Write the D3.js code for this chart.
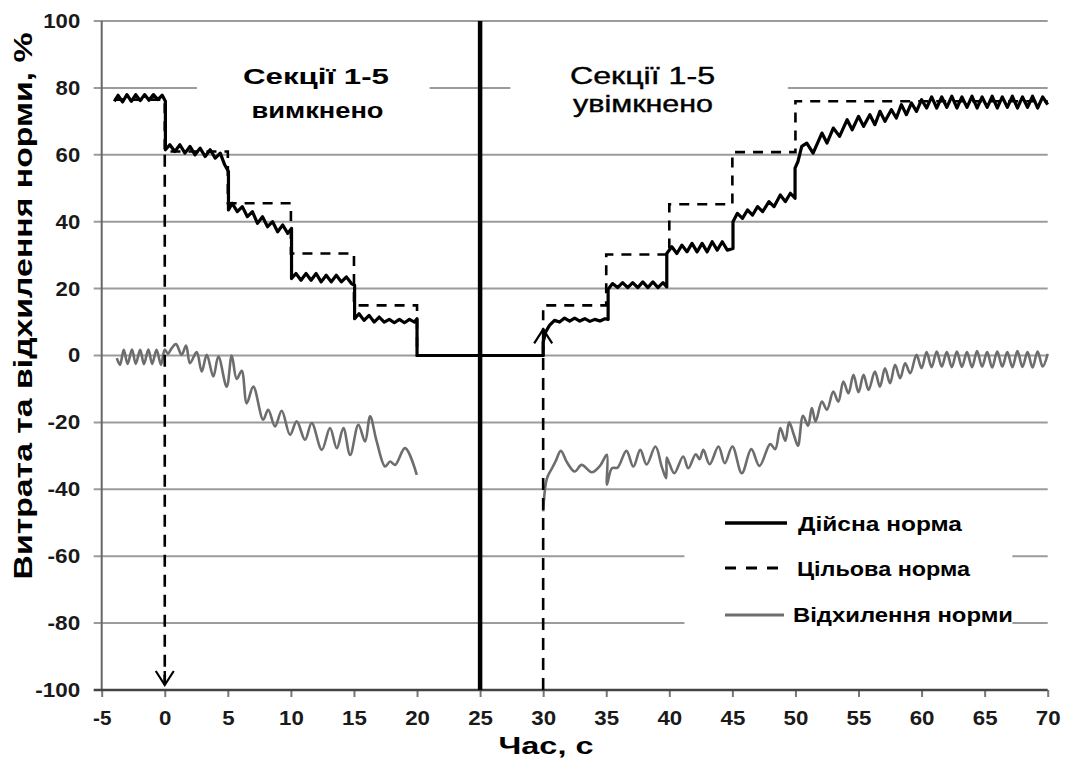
<!DOCTYPE html>
<html><head><meta charset="utf-8">
<script src="https://cdn.jsdelivr.net/npm/d3@7"></script>
<style>
html,body{margin:0;padding:0;background:#fff;}
svg{display:block;font-family:"Liberation Sans",Arial,sans-serif;}
</style></head>
<body>
<svg id="chart" width="1066" height="758"></svg>
<script>
// ---------------- DATA ----------------
const xTicks = [-5,0,5,10,15,20,25,30,35,40,45,50,55,60,65,70];
const yTicks = [-100,-80,-60,-40,-20,0,20,40,60,80,100];

// target norm (step after)
const targetTimes  = [-4, 0, 5, 10, 15, 20, 30, 35, 40, 45, 50, 70];
const targetValues = [76.5, 61, 45.5, 30.5, 15, 0, 15, 30.2, 45.2, 60.8, 76, 76];

// actual norm [time, value]
const actualNorm = [
 [-4.0,76],[-3.7,77.8],[-3.35,75.8],[-3.0,78],[-2.65,76],[-2.3,78],[-1.95,76.2],[-1.6,78],[-1.25,76.3],[-0.9,78],[-0.55,76.5],[-0.2,77.8],[0.05,76],
 [0.05,61.5],[0.4,63],[0.8,61],[1.2,63],[1.6,60.5],[2.0,62.5],[2.4,60],[2.8,62],[3.2,59.5],[3.6,61.5],[4.0,59],[4.4,60.5],[4.75,57],[5.05,55],
 [5.05,43.5],[5.35,45.5],[5.75,43],[6.15,44.5],[6.55,41.5],[6.95,43],[7.35,39.5],[7.75,41.5],[8.15,38.5],[8.55,40],[8.95,37],[9.35,39],[9.75,36.5],[10.05,38],
 [10.05,23],[10.4,24.5],[10.8,22.5],[11.2,24.5],[11.6,22.5],[12.0,24.5],[12.4,22],[12.8,24],[13.2,22],[13.6,24],[14.0,22],[14.4,23.5],[14.8,21.5],[15.05,21],
 [15.05,11],[15.4,12.5],[15.8,10.5],[16.2,12],[16.6,10],[17.0,11.5],[17.4,10],[17.8,10.8],[18.2,9.8],[18.6,10.8],[19.0,9.8],[19.4,10.8],[19.8,10],[20.0,11],
 [20.0,0],[30.0,0],
 [30.0,4],[30.2,7],[30.5,9],[30.9,10.5],[31.3,10],[31.7,11.2],[32.1,10.3],[32.5,11.2],[32.9,10.3],[33.3,11],[33.7,10.2],[34.1,10.8],[34.5,10.3],[34.9,11],[35.15,10.8],
 [35.15,19.8],[35.5,21.5],[35.9,20.3],[36.3,21.8],[36.7,20.3],[37.1,21.8],[37.5,20.3],[37.9,22],[38.3,20.3],[38.7,22],[39.1,20.3],[39.5,21.8],[39.8,20.5],
 [39.8,30.5],[40.2,32.5],[40.6,30.5],[41.0,33],[41.4,31],[41.8,33.5],[42.2,31],[42.6,33.5],[43.0,31],[43.4,34],[43.8,31.5],[44.2,34],[44.6,31.5],[45.05,32],
 [45.05,40],[45.4,42.5],[45.8,41],[46.2,43.5],[46.6,42],[47.0,44.5],[47.4,43],[47.9,46],[48.3,44.5],[48.8,48],[49.2,46],[49.6,48.5],[49.97,47],
 [49.97,56],[50.2,58],[50.5,62.5],[50.9,63.5],[51.4,60.5],[52.1,66.5],[52.5,63.5],[53.0,68],[53.5,65.5],[54.1,70.5],[54.5,67.5],[55.0,71.5],[55.4,68.5],[55.9,72],[56.3,69],[56.7,73],[57.1,70],[57.6,73.5],[58.0,71],[58.4,75],[58.8,72],[59.2,75.5],[59.6,73],[60.0,76.5],
 [60.4,74],[60.8,77.3],[61.2,74],[61.6,77.3],[62.0,74.2],[62.4,77.5],[62.8,74],[63.2,77.3],[63.6,74.2],[64.0,77.5],[64.4,74],[64.8,77.3],[65.2,74.2],[65.6,77.5],[66.0,74],[66.4,77.3],[66.8,74.2],[67.2,77.5],[67.6,74],[68.0,77.3],[68.4,74.2],[68.8,77.5],[69.2,74],[69.6,77.3],[70.0,75]
];

// norm deviation, before sections off and after sections on
const deviationBefore = [
 [-3.8,-0.8],[-3.55,-2.8],[-3.25,1.7],[-2.95,-2.5],[-2.6,1.8],[-2.3,-2.5],[-1.95,1.7],[-1.65,-2.6],[-1.3,1.8],[-1.0,-2.5],[-0.65,1.7],[-0.3,-2.8],[0.0,1.8],[0.25,0.5],[0.55,2.2],[0.89,3.4],[1.34,0.2],[1.69,3.0],[2.0,-2.3],[2.53,1.0],[2.93,-4.8],[3.33,0.2],[3.85,-6.3],[4.25,-0.3],[4.91,-9.3],[5.31,0],[5.7,-7],[6.1,-4.6],[6.5,-14.3],[7.02,-9.3],[7.8,-19.2],[8.2,-16.2],[8.74,-21.2],[9.27,-16.5],[9.93,-23.7],[10.46,-19.7],[11.12,-25.2],[11.65,-20.2],[12.45,-28.2],[13.1,-21.7],[13.64,-27.7],[14.16,-21.7],[14.7,-29.7],[15.35,-20.7],[15.88,-25.7],[16.28,-18.2],[16.8,-25.7],[17.47,-33.2],[17.86,-31.7],[18.26,-32.7],[19.05,-27.7],[19.98,-35.7]
];
const deviationAfter = [
 [30.0,-46.6],[30.3,-36.7],[30.7,-33.7],[31.0,-31.5],[31.4,-28.5],[31.9,-32],[32.5,-34.7],[33.05,-32.7],[33.85,-34.9],[34.5,-33],[35.05,-29.7],[35.06,-38.6],[35.45,-33.7],[35.9,-33.5],[36.6,-28.5],[37.15,-33.2],[37.7,-28.2],[38.2,-32.6],[38.9,-27.2],[39.4,-33.2],[39.75,-36.7],[39.8,-30.5],[40.0,-32.2],[40.4,-35.2],[41.1,-30.2],[41.5,-33.7],[42.1,-29.5],[42.4,-31],[42.7,-28.2],[43.2,-32.5],[43.9,-27.2],[44.4,-32.2],[45.0,-27.2],[45.75,-35.2],[46.5,-28],[47.15,-33],[48.0,-26.5],[48.4,-28],[48.8,-21.7],[49.2,-25.5],[49.5,-20],[49.9,-24],[50.2,-27],[50.6,-18],[51.0,-21],[51.3,-15.7],[51.6,-19.7],[52.1,-13.8],[52.5,-16.2],[53.0,-10.8],[53.4,-13.8],[53.8,-7.8],[54.2,-11.3],[54.6,-5.8],[55.0,-11],[55.4,-5.8],[55.8,-10.3],[56.3,-4.8],[56.7,-9.3],[57.1,-3.8],[57.5,-8.3],[57.9,-2.8],[58.3,-6.8],[58.7,-2.3],[59.1,-5.3],[59.6,0.2],[60.0,-3.8],[60.4,1],[60.8,-3.5],[61.2,1.2],[61.6,-3.3],[62.0,1],[62.4,-3.5],[62.8,1.2],[63.2,-3.4],[63.6,1],[64.0,-3.5],[64.4,1.3],[64.8,-3.3],[65.2,1],[65.6,-3.6],[66.0,1.2],[66.4,-3.3],[66.8,1],[67.2,-3.5],[67.6,1.3],[68.0,-3.4],[68.4,1],[68.8,-3.6],[69.2,1.2],[69.6,-3.3],[70.0,0.5]
];

// event markers: time, dashed arrow from value to value
const eventArrows = [
 {t:0,  from:60,   to:-98.5},
 {t:30, from:-100, to:7.8}
];
const sectionSwitchTime = 25;

const labelsOff = ["Секції 1-5", "вимкнено"];
const labelsOn  = ["Секції 1-5", "увімкнено"];
const legendNames = ["Дійсна норма", "Цільова норма", "Відхилення норми"];
const yTitle = "Витрата та відхилення норми, %";
const xTitle = "Час, с";

// -------------- LAYOUT --------------
const svg = d3.select("#chart");
const x = d3.scaleLinear().domain([-5,70]).range([101.7,1047.7]);
const y = d3.scaleLinear().domain([-100,100]).range([690,21]);
const GRID = "#9b9b9b";
const fmt = d => String(d); // plain hyphen-minus as in the original

// gridline gaps (in time units) where texts interrupt the grid
const gridGaps = {"80": [[2.55,21.0],[27.4,49.4]], "-60": [[41.2,67.2]], "-80": [[41.2,67.2]]};

const gGrid = svg.append("g");
yTicks.forEach(v => {
  if (v === -100) return;
  const gaps = gridGaps[String(v)] || [];
  let start = x(-5) - 8;
  const segs = [];
  gaps.forEach(g => { segs.push([start, x(g[0])]); start = x(g[1]); });
  segs.push([start, x(70)]);
  segs.forEach(s => gGrid.append("line")
    .attr("x1", s[0]).attr("x2", s[1]).attr("y1", y(v)).attr("y2", y(v))
    .attr("stroke", GRID).attr("stroke-width", 2));
});

// y axis line
svg.append("line").attr("x1", x(-5)).attr("x2", x(-5)).attr("y1", y(100)).attr("y2", y(-100))
  .attr("stroke", "#666").attr("stroke-width", 2);

// y tick labels via axis
const yAxis = svg.append("g").attr("transform", `translate(${x(-5)},0)`)
  .call(d3.axisLeft(y).tickValues(yTicks).tickSize(0).tickPadding(21.5).tickFormat(fmt));
yAxis.select(".domain").remove();
yAxis.selectAll("text")
  .attr("font-family", "Liberation Sans, Arial, sans-serif")
  .attr("font-size", 20).attr("font-weight", "bold").attr("fill", "#1a1a1a")
  .attr("textLength", d => String(Math.abs(d)).length * 12.3 + (d < 0 ? 8 : 0))
  .attr("lengthAdjust", "spacingAndGlyphs");

// x axis
const xAxis = svg.append("g").attr("transform", `translate(0,${y(-100)})`)
  .call(d3.axisBottom(x).tickValues(xTicks).tickSize(7).tickPadding(13).tickFormat(fmt));
xAxis.select(".domain").remove();
xAxis.selectAll(".tick line").attr("stroke", "#777").attr("stroke-width", 2);
xAxis.selectAll("text")
  .attr("font-family", "Liberation Sans, Arial, sans-serif")
  .attr("font-size", 21).attr("font-weight", "bold").attr("fill", "#1a1a1a")
  .attr("textLength", d => String(Math.abs(d)).length * 12.4 + (d < 0 ? 6 : 0))
  .attr("lengthAdjust", "spacingAndGlyphs");
svg.append("line").attr("x1", x(-5) - 8).attr("x2", x(70)).attr("y1", y(-100)).attr("y2", y(-100))
  .attr("stroke", "#444").attr("stroke-width", 2.5);

// vertical switching line at 25 s
svg.append("line").attr("x1", x(sectionSwitchTime)).attr("x2", x(sectionSwitchTime))
  .attr("y1", y(100)).attr("y2", y(-100)).attr("stroke", "#000").attr("stroke-width", 4.5);

// deviation (gray)
const devLine = d3.line().x(d => x(d[0])).y(d => y(d[1])).curve(d3.curveCatmullRom.alpha(0.5));
[deviationBefore, deviationAfter].forEach(ser =>
  svg.append("path").attr("d", devLine(ser)).attr("fill", "none")
    .attr("stroke", "#6d6d6d").attr("stroke-width", 2.6).attr("stroke-linejoin", "round"));

// target norm (dashed, step)
const targetData = targetTimes.map((t, i) => [t, targetValues[i]]);
svg.append("path")
  .attr("d", d3.line().x(d => x(d[0])).y(d => y(d[1])).curve(d3.curveStepAfter)(targetData))
  .attr("fill", "none").attr("stroke", "#000").attr("stroke-width", 2.6).attr("stroke-dasharray", "10,8");

// event arrows
eventArrows.forEach(a => {
  const xp = x(a.t);
  svg.append("line").attr("x1", xp).attr("x2", xp).attr("y1", y(a.from)).attr("y2", y(a.to))
    .attr("stroke", "#000").attr("stroke-width", 2.6).attr("stroke-dasharray", "12,8");
  const tip = y(a.to);
  const dir = a.to < a.from ? -1 : 1; // -1: pointing down
  const back = tip + (dir === -1 ? -14 : 14);
  svg.append("path").attr("d", `M${xp-9},${back}L${xp},${tip}L${xp+9},${back}`)
    .attr("fill", "none").attr("stroke", "#000").attr("stroke-width", 2.2);
  svg.append("line").attr("x1", xp).attr("x2", xp).attr("y1", tip).attr("y2", back)
    .attr("stroke", "#000").attr("stroke-width", 2.4);
});

// actual norm (solid black)
svg.append("path")
  .attr("d", d3.line().x(d => x(d[0])).y(d => y(d[1]))(actualNorm))
  .attr("fill", "none").attr("stroke", "#000").attr("stroke-width", 3.2).attr("stroke-linejoin", "round");

// annotations
const font = "Liberation Sans, Arial, sans-serif";
function txt(s, xp, yp, size, weight, len, anchor) {
  return svg.append("text").attr("x", xp).attr("y", yp).attr("font-family", font)
    .attr("font-size", size).attr("font-weight", weight).attr("fill", "#000")
    .attr("text-anchor", anchor || "middle")
    .attr("textLength", len).attr("lengthAdjust", "spacingAndGlyphs").text(s);
}
txt(labelsOff[0], 316, 84, 22, "bold", 146);
txt(labelsOff[1], 317.5, 118, 22, "bold", 132);
txt(labelsOn[0], 642.5, 84, 24, "normal", 145).attr("stroke", "#000").attr("stroke-width", 0.4);
txt(labelsOn[1], 643, 112, 24, "normal", 140).attr("stroke", "#000").attr("stroke-width", 0.4);

// legend
const legY = [523, 568, 615];
svg.append("line").attr("x1", 725).attr("x2", 787).attr("y1", legY[0]).attr("y2", legY[0])
  .attr("stroke", "#000").attr("stroke-width", 3.5);
svg.append("line").attr("x1", 725).attr("x2", 787).attr("y1", legY[1]).attr("y2", legY[1])
  .attr("stroke", "#000").attr("stroke-width", 3.2).attr("stroke-dasharray", "11,10");
svg.append("line").attr("x1", 725).attr("x2", 784).attr("y1", legY[2]).attr("y2", legY[2])
  .attr("stroke", "#6d6d6d").attr("stroke-width", 2.8);
txt(legendNames[0], 798, 531, 20, "bold", 164, "start");
txt(legendNames[1], 797, 576, 20, "bold", 173, "start");
txt(legendNames[2], 793, 622, 20, "bold", 220, "start");

// axis titles
svg.append("text").attr("transform", `translate(32,306) rotate(-90)`)
  .attr("font-family", font).attr("font-size", 26).attr("font-weight", "bold")
  .attr("text-anchor", "middle").attr("fill", "#000")
  .attr("textLength", 547).attr("lengthAdjust", "spacingAndGlyphs").text(yTitle);
txt(xTitle, 546, 754, 24, "bold", 95);
</script>
</body></html>
